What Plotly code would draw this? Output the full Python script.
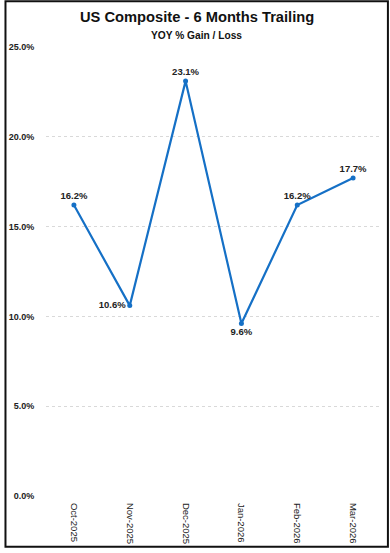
import plotly.graph_objects as go

categories = ["Oct-2025", "Nov-2025", "Dec-2025", "Jan-2026", "Feb-2026", "Mar-2026"]
values = [16.2, 10.6, 23.1, 9.6, 16.2, 17.7]
label_positions = ["top center", "middle left", "top center", "bottom center", "top center", "top center"]
y_ticks = [0, 5, 10, 15, 20, 25]

W, H = 390, 553
ML, MR, MT, MB = 42, 9, 47, 54

fig = go.Figure()
fig.add_trace(go.Scatter(
    x=categories, y=values, mode="lines+markers+text",
    line=dict(color="#1570C6", width=2.2),
    marker=dict(color="#1570C6", size=5),
    text=[f"{v:.1f}%" for v in values],
    textposition=label_positions,
    textfont=dict(family="Liberation Sans", size=9.5, color="#222222", weight="bold"),
    cliponaxis=False, hoverinfo="skip",
))

pw = W - ML - MR
ph = H - MT - MB
def px_x(p):
    return (p - ML) / pw
def px_y(p):
    return 1 - (p - MT) / ph

fig.add_shape(type="rect", xref="paper", yref="paper",
              x0=px_x(1), x1=px_x(388), y0=px_y(550), y1=px_y(1),
              line=dict(color="#111111", width=2), fillcolor="rgba(0,0,0,0)", layer="above")

fig.add_annotation(text="<b>US Composite - 6 Months Trailing</b>", xref="paper", yref="paper",
                   x=px_x(195), y=px_y(17), showarrow=False, xanchor="center", yanchor="middle",
                   font=dict(family="Liberation Sans", size=14.7, color="#111111"))
fig.add_annotation(text="<b>YOY % Gain / Loss</b>", xref="paper", yref="paper",
                   x=px_x(194), y=px_y(35), showarrow=False, xanchor="center", yanchor="middle",
                   font=dict(family="Liberation Sans", size=10.2, color="#111111"))

fig.update_layout(
    width=W, height=H, margin=dict(l=ML, r=MR, t=MT, b=MB),
    paper_bgcolor="white", plot_bgcolor="white", showlegend=False,
    xaxis=dict(type="category", tickangle=90, showgrid=False, zeroline=False, showline=False,
               ticks="outside", ticklen=4, tickcolor="rgba(0,0,0,0)",
               tickfont=dict(family="Liberation Sans", size=9.5, color="#222222"),
               range=[-0.5, 5.5]),
    yaxis=dict(range=[0, 25], tickvals=y_ticks, ticktext=[f"{v:.1f}%" for v in y_ticks],
               showgrid=True, gridcolor="#d9d9d9", gridwidth=1, griddash="dot", zeroline=False,
               showline=False, ticks="outside", ticklen=9, tickcolor="rgba(0,0,0,0)",
               tickfont=dict(family="Liberation Sans", size=9, color="#222222", weight="bold")),
)

fig.write_html("out.html")
